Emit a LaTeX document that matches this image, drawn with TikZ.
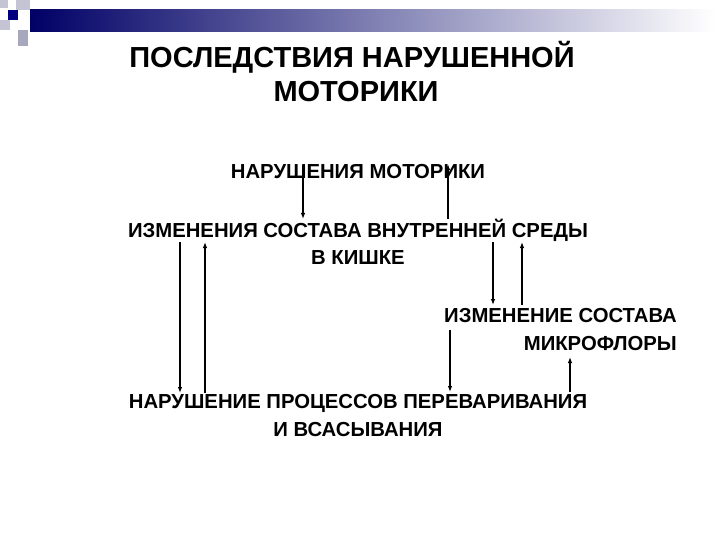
\documentclass[tikz,border=0pt]{standalone}
\usepackage{fontspec}
\setmainfont{Liberation Sans}
\usetikzlibrary{arrows.meta}
\begin{document}
\begin{tikzpicture}[x=1pt,y=-1pt,
 lbl/.style={font=\fontsize{20.3}{24}\selectfont\bfseries,inner sep=0pt},
 ttl/.style={font=\fontsize{29}{34}\selectfont\bfseries,inner sep=0pt},
 arr/.style={-{Latex[length=6pt,width=4.5pt]},line width=1.1pt,black}]
\useasboundingbox (0,0) rectangle (720,540);
\fill[white] (0,0) rectangle (720,540);
% decoration
\shade[left color=blue!40!black,right color=white] (30,10) rectangle (715,32);
\fill[blue!15!gray!40] (0,0) rectangle (8,8);
\fill[blue!15!gray!40] (16,0) rectangle (30,10);
\fill[blue!15!gray!40] (0,20) rectangle (10,30);
\fill[blue!15!gray!60] (18,30) rectangle (28,46);
\fill[blue!50!black] (8,10) rectangle (18,20);
% texts
\node[ttl] (t1) at (352,57) {ПОСЛЕДСТВИЯ НАРУШЕННОЙ};
\node[ttl] (t2) at (356,92) {МОТОРИКИ};
\node[lbl] (n1) at (358,172) {НАРУШЕНИЯ МОТОРИКИ};
\node[lbl] (n2) at (358,230) {ИЗМЕНЕНИЯ СОСТАВА ВНУТРЕННЕЙ СРЕДЫ};
\node[lbl] (n2b) at (358,258) {В КИШКЕ};
\node[lbl,anchor=east] (n3) at (677,316) {ИЗМЕНЕНИЕ СОСТАВА};
\node[lbl,anchor=east] (n3b) at (677,344) {МИКРОФЛОРЫ};
\node[lbl] (n4) at (358,403) {НАРУШЕНИЕ ПРОЦЕССОВ ПЕРЕВАРИВАНИЯ};
\node[lbl] (n4b) at (358,430) {И ВСАСЫВАНИЯ};
% arrow end points
\coordinate (a1s) at (303,165); \coordinate (a1e) at (303,219);
\coordinate (a2s) at (448,219); \coordinate (a2e) at (448,164);
\coordinate (a3s) at (180,242); \coordinate (a3e) at (180,393);
\coordinate (a4s) at (205,393); \coordinate (a4e) at (205,242);
\coordinate (a5s) at (493,242); \coordinate (a5e) at (493,305);
\coordinate (a6s) at (522,305); \coordinate (a6e) at (522,242);
\coordinate (a7s) at (450,330); \coordinate (a7e) at (450,392);
\coordinate (a8s) at (570,392); \coordinate (a8e) at (570,357);
\foreach \i in {1,...,8} \draw[arr] (a\i s) -- (a\i e);
\end{tikzpicture}
\end{document}
